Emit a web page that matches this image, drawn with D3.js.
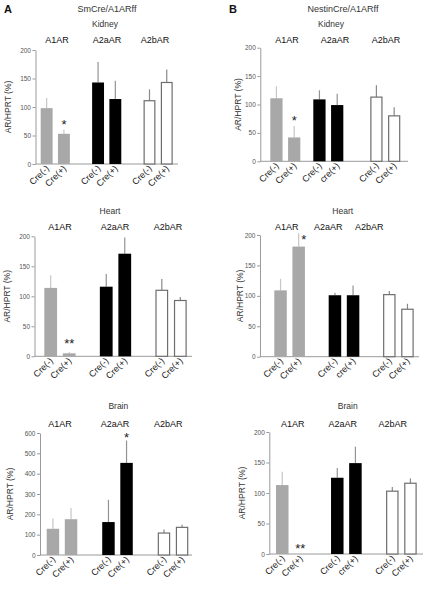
<!DOCTYPE html>
<html><head><meta charset="utf-8">
<script src="https://cdn.jsdelivr.net/npm/d3@7"></script>
<style>body{margin:0;background:#fff}svg{display:block;font-family:"Liberation Sans",Arial,sans-serif}</style>
</head><body><svg id="c" width="423" height="589"></svg>
<script>
// ---------- DATA ----------
const groups = ["A1AR", "A2aAR", "A2bAR"];
const xLabelsSm = ["Cre(-)", "Cre(+)", "Cre(-)", "Cre(+)", "Cre(-)", "Cre(+)"];
const xLabelsNestin = ["Cre(-)", "Cre(+)", "Cre(-)", "cre(+)", "Cre(-)", "Cre(+)"];
const ticks200 = [0, 50, 100, 150, 200];
const ticks600 = [0, 100, 200, 300, 400, 500, 600];

// values in order: A1AR Cre(-), A1AR Cre(+), A2aAR Cre(-), A2aAR Cre(+), A2bAR Cre(-), A2bAR Cre(+)
const smKidneyMean = [98, 53, 143, 114, 111, 143];
const smKidneySem  = [18, 7, 36, 32, 20, 23];
const smHeartMean  = [114, 5, 116, 171, 110, 93];
const smHeartSem   = [21, 2, 21, 27, 19, 6];
const smBrainMean  = [129, 176, 162, 453, 108, 136];
const smBrainSem   = [51, 55, 110, 110, 17, 13];
const nesKidneyMean = [111, 42, 109, 99, 113, 80];
const nesKidneySem  = [21, 20, 16, 20, 21, 15];
const nesHeartMean  = [109, 181, 101, 101, 102, 78];
const nesHeartSem   = [19, 22, 4, 16, 6, 9];
const nesBrainMean  = [113, 0, 125, 149, 103, 116];
const nesBrainSem   = [22, 0, 16, 27, 7, 8];

const stars = [
  {panel: "smKidney", index: 1, text: "*"},
  {panel: "smHeart", index: 1, text: "**"},
  {panel: "smBrain", index: 3, text: "*"},
  {panel: "nesKidney", index: 1, text: "*"},
  {panel: "nesHeart", index: 1, text: "*"},
  {panel: "nesBrain", index: 1, text: "**"}
];

const panels = [
  {key: "smKidney", tissue: "Kidney", mean: smKidneyMean, sem: smKidneySem, labels: xLabelsSm, ticks: ticks200},
  {key: "smHeart", tissue: "Heart", mean: smHeartMean, sem: smHeartSem, labels: xLabelsSm, ticks: ticks200},
  {key: "smBrain", tissue: "Brain", mean: smBrainMean, sem: smBrainSem, labels: xLabelsSm, ticks: ticks600},
  {key: "nesKidney", tissue: "Kidney", mean: nesKidneyMean, sem: nesKidneySem, labels: xLabelsNestin, ticks: ticks200},
  {key: "nesHeart", tissue: "Heart", mean: nesHeartMean, sem: nesHeartSem, labels: xLabelsNestin, ticks: ticks200},
  {key: "nesBrain", tissue: "Brain", mean: nesBrainMean, sem: nesBrainSem, labels: xLabelsNestin, ticks: ticks200}
];

// ---------- LAYOUT ----------
const layout = {
  smKidney:  {axisX: 35.5, xEnd: 178, y0: 164, yTop: 50, bars: [40.7, 172.7], gaps: [1.87, 1.87],
              groupX: [57, 107, 155], groupY: 42.5, tissueX: 105, tissueY: 26.5, yLabelX: 10.5,
              stars: {dx: 0, dy: -1}},
  smHeart:   {axisX: 34.5, xEnd: 192, y0: 356.3, yTop: 236.3, bars: [44.3, 186.7], gaps: [1.9, 1.9],
              groupX: [60, 115, 168], groupY: 230, tissueX: 110, tissueY: 213.5, yLabelX: 10,
              stars: {dx: 0, dy: -4}},
  smBrain:   {axisX: 40, xEnd: 192, y0: 555, yTop: 433, bars: [46.7, 188.3], gaps: [2, 2],
              groupX: [60, 115, 168.3], groupY: 427, tissueX: 118.3, tissueY: 408.5, yLabelX: 13,
              stars: {dx: 0, dy: 1.5}},
  nesKidney: {axisX: 260.3, xEnd: 408, y0: 161.3, yTop: 47.7, bars: [270.3, 400.3], gaps: [1.06, 2.2],
              groupX: [287, 335, 386], groupY: 42.5, tissueX: 331, tissueY: 26.5, yLabelX: 241,
              stars: {dx: 0, dy: -1}},
  nesHeart:  {axisX: 260, xEnd: 419, y0: 356.7, yTop: 235, bars: [274.3, 413.7], gaps: [1.9, 1.9],
              groupX: [286.7, 328.3, 369.3], groupY: 230, tissueX: 342.7, tissueY: 213.5, yLabelX: 242.5,
              stars: {dx: 5, dy: 11}},
  nesBrain:  {axisX: 269.3, xEnd: 423, y0: 554, yTop: 432, bars: [276, 416.7], gaps: [1.95, 1.95],
              groupX: [292.7, 342.7, 392.7], groupY: 427, tissueX: 347.7, tissueY: 408.5, yLabelX: 244.5,
              stars: {dx: 0, dy: -1}}
};
const groupFill = ["#a8a8a8", "#000000", "#ffffff"];
const groupStroke = ["none", "none", "#6e6e6e"];
const errColor = ["#c6c6c6", "#939393", "#8a8a8a"];
const innerGap = 0.45;

// ---------- DRAW ----------
const svg = d3.select("#c");
svg.append("rect").attr("width", 423).attr("height", 589).attr("fill", "#fff");

svg.append("text").attr("x", 4).attr("y", 12.5).attr("font-size", 11).attr("font-weight", "bold").attr("fill", "#111").text("A");
svg.append("text").attr("x", 229).attr("y", 12.5).attr("font-size", 11).attr("font-weight", "bold").attr("fill", "#111").text("B");
svg.append("text").attr("x", 107).attr("y", 11.5).attr("font-size", 9).attr("text-anchor", "middle").attr("fill", "#333").text("SmCre/A1ARff");
svg.append("text").attr("x", 343).attr("y", 11.5).attr("font-size", 9).attr("text-anchor", "middle").attr("fill", "#333").text("NestinCre/A1ARff");

panels.forEach(p => {
  const L = layout[p.key];
  const yMax = d3.max(p.ticks);
  const y = d3.scaleLinear().domain([0, yMax]).range([L.y0, L.yTop]);
  const gw = 2 + innerGap;
  const starts = [0, gw + L.gaps[0], 2 * gw + L.gaps[0] + L.gaps[1]];
  const total = starts[2] + gw;
  const xu = d3.scaleLinear().domain([0, total]).range(L.bars);
  const bw = xu(1) - xu(0);
  const barLeft = i => xu(starts[Math.floor(i / 2)] + (i % 2) * (1 + innerGap));
  const barCx = i => barLeft(i) + bw / 2;
  const g = svg.append("g");

  g.append("text").attr("x", L.tissueX).attr("y", L.tissueY).attr("font-size", 8.5)
    .attr("text-anchor", "middle").attr("fill", "#333").text(p.tissue);
  g.selectAll(".grp").data(groups).enter().append("text")
    .attr("x", (d, i) => L.groupX[i]).attr("y", L.groupY).attr("font-size", 9)
    .attr("text-anchor", "middle").attr("fill", "#111").text(d => d);

  const ax = g.append("g").attr("transform", `translate(${L.axisX},0)`)
    .call(d3.axisLeft(y).tickValues(p.ticks).tickSize(3).tickSizeOuter(0).tickPadding(1.5));
  ax.select(".domain").attr("stroke", "#9a9a9a");
  ax.selectAll(".tick line").attr("stroke", "#9a9a9a");
  ax.selectAll(".tick text").attr("font-size", 6.5).attr("fill", "#555").attr("font-family", "Liberation Sans, Arial, sans-serif");

  g.append("line").attr("x1", L.axisX).attr("x2", L.xEnd).attr("y1", y(0)).attr("y2", y(0))
    .attr("stroke", "#9a9a9a").attr("stroke-width", 1);

  g.append("text").attr("transform", `translate(${L.yLabelX},${(L.y0 + L.yTop) / 2}) rotate(-90)`)
    .attr("font-size", 8.5).attr("text-anchor", "middle").attr("fill", "#333").text("AR/HPRT (%)");

  const idx = d3.range(6);
  g.selectAll(".err").data(idx).enter().append("line")
    .attr("x1", i => barCx(i)).attr("x2", i => barCx(i))
    .attr("y1", i => y(p.mean[i])).attr("y2", i => y(p.mean[i] + p.sem[i]))
    .attr("stroke", i => errColor[Math.floor(i / 2)]).attr("stroke-width", 1.2);
  g.selectAll(".bar").data(idx).enter().append("rect")
    .attr("x", i => barLeft(i) + (Math.floor(i / 2) === 2 ? 0.6 : 0))
    .attr("width", i => bw - (Math.floor(i / 2) === 2 ? 1.2 : 0))
    .attr("y", i => y(p.mean[i]))
    .attr("height", i => y(0) - y(p.mean[i]))
    .attr("fill", i => groupFill[Math.floor(i / 2)])
    .attr("stroke", i => groupStroke[Math.floor(i / 2)])
    .attr("stroke-width", 1.2);

  g.selectAll(".xl").data(idx).enter().append("text")
    .attr("transform", i => `translate(${barCx(i) + 3},${y(0) + 5}) rotate(-45)`)
    .attr("font-size", 9).attr("text-anchor", "end").attr("fill", "#222").text(i => p.labels[i]);

  stars.filter(s => s.panel === p.key).forEach(s => {
    g.append("text").attr("x", barCx(s.index) + L.stars.dx)
      .attr("y", y(p.mean[s.index] + p.sem[s.index]) + L.stars.dy)
      .attr("font-size", 13).attr("text-anchor", "middle").attr("fill", "#222").text(s.text);
  });
});
</script></body></html>
